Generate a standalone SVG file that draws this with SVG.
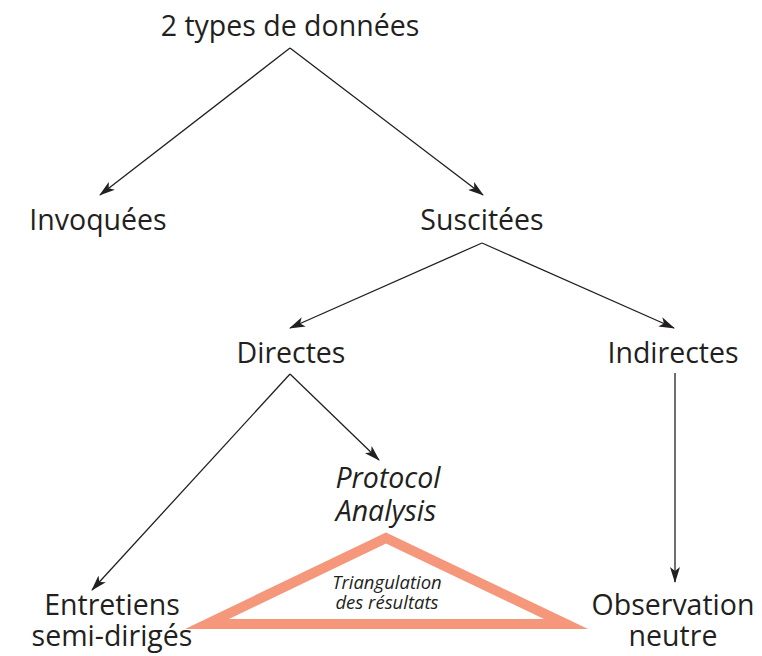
<svg xmlns="http://www.w3.org/2000/svg" width="762" height="656" viewBox="0 0 762 656">
  <style>
    .lbl { font-family: "Open Sans", "Noto Sans", "Liberation Sans", sans-serif; font-size: 28.5px; fill: #231f20; text-anchor: middle; }
    .it { font-style: italic; }
    .small { font-family: "Open Sans", "Noto Sans", "Liberation Sans", sans-serif; font-size: 18.5px; font-style: italic; fill: #231f20; text-anchor: middle; }
    .edge { stroke: #231f20; stroke-width: 1.3; fill: none; marker-end: url(#arr); }
  </style>
  <defs>
    <marker id="arr" viewBox="0 0 16 10" refX="15" refY="5" markerWidth="16" markerHeight="10" markerUnits="userSpaceOnUse" orient="auto">
      <path d="M0,0 L16,5 L0,10 L4,5 z" fill="#231f20"/>
    </marker>
  </defs>

  <g id="connectors">
    <line class="edge" x1="290" y1="48" x2="100" y2="195"/>
    <line class="edge" x1="290" y1="48" x2="483" y2="195"/>
    <line class="edge" x1="482" y1="243" x2="290" y2="328"/>
    <line class="edge" x1="482" y1="243" x2="674" y2="328"/>
    <line class="edge" x1="290" y1="374" x2="92" y2="590"/>
    <line class="edge" x1="290" y1="374" x2="379" y2="460"/>
    <line class="edge" x1="675" y1="373" x2="675" y2="582"/>
  </g>

  <g id="root"><text class="lbl" x="290" y="36">2 types de données</text></g>
  <g id="invoquees"><text class="lbl" x="98" y="230">Invoquées</text></g>
  <g id="suscitees"><text class="lbl" x="482" y="230">Suscitées</text></g>
  <g id="directes"><text class="lbl" x="291" y="363">Directes</text></g>
  <g id="indirectes"><text class="lbl" x="673" y="363">Indirectes</text></g>
  <g id="protocol">
    <text class="lbl it" x="388" y="488">Protocol</text>
    <text class="lbl it" x="386" y="521">Analysis</text>
  </g>
  <g id="entretiens">
    <text class="lbl" x="112" y="615">Entretiens</text>
    <text class="lbl" x="112" y="646">semi-dirigés</text>
  </g>
  <g id="observation">
    <text class="lbl" x="673" y="615">Observation</text>
    <text class="lbl" x="673" y="646">neutre</text>
  </g>
  <g id="triangulation">
    <polygon points="386,538 207,624 566,624" fill="#ffffff" stroke="#f4977a" stroke-width="10" stroke-linejoin="miter" stroke-miterlimit="10"/>
    <text class="small" x="387" y="589">Triangulation</text>
    <text class="small" x="387" y="609">des résultats</text>
  </g>
</svg>
